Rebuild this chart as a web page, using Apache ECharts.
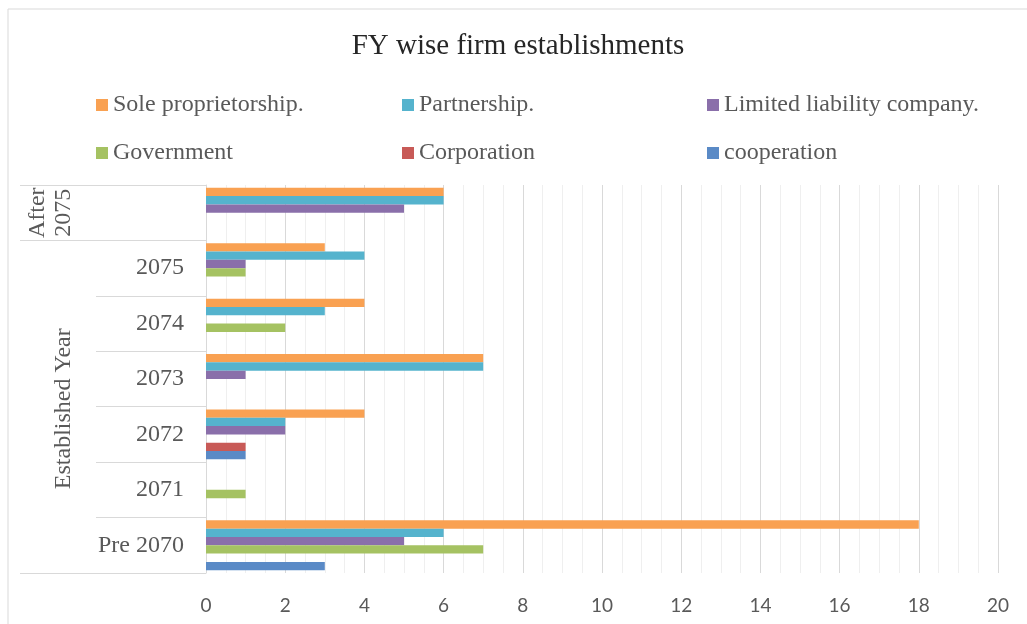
<!DOCTYPE html>
<html>
<head>
<meta charset="utf-8">
<script src="https://cdn.jsdelivr.net/npm/echarts@6/dist/echarts.min.js"></script>
<style>
  html, body { margin: 0; padding: 0; background: #fff; }
  #chart { width: 1027px; height: 624px; }
</style>
</head>
<body>
<div id="chart"></div>
<script>
// categories from bottom to top
const categories = ['Pre 2070', '2071', '2072', '2073', '2074', '2075', 'After 2075'];
const seriesNames = ['Sole proprietorship.', 'Partnership.', 'Limited liability company.', 'Government', 'Corporation', 'cooperation'];
const soleProprietorship = [18, 0, 4, 7, 4, 3, 6];
const partnership = [6, 0, 2, 7, 3, 4, 6];
const limitedLiability = [5, 0, 2, 1, 0, 1, 5];
const government = [7, 1, 0, 0, 2, 1, 0];
const corporation = [0, 0, 1, 0, 0, 0, 0];
const cooperation = [3, 0, 1, 0, 0, 0, 0];
const colors = ['#F9A152', '#55B3CD', '#8A6FAA', '#A5C262', '#C85A57', '#5A8AC6'];

const serif = 'Liberation Serif';
const gray = '#595959';
const lineGray = '#d9d9d9';

let chart = echarts.init(document.getElementById('chart'));

const allValues = [soleProprietorship, partnership, limitedLiability, government, corporation, cooperation];

const legendStyle = {
  orient: 'vertical',
  top: 93,
  padding: 0,
  itemGap: 24,
  itemWidth: 12,
  itemHeight: 12,
  icon: 'rect',
  textStyle: { fontFamily: serif, fontSize: 24, color: gray, lineHeight: 24 }
}

let option = {
  animation: false,
  backgroundColor: '#fff',
  title: {
    text: 'FY wise firm establishments',
    left: 518,
    textAlign: 'center',
    top: 32,
    padding: 0,
    textStyle: { fontFamily: serif, fontSize: 29, fontWeight: 'normal', color: '#262626' }
  },
  legend: [
    Object.assign({ left: 96, data: [seriesNames[0], seriesNames[3]] }, legendStyle),
    Object.assign({ left: 402, data: [seriesNames[1], seriesNames[4]] }, legendStyle),
    Object.assign({ left: 707, data: [seriesNames[2], seriesNames[5]] }, legendStyle),
  ],
  grid: { left: 206, right: 29, top: 185, bottom: 51, containLabel: false },
  xAxis: {
    type: 'value',
    min: 0,
    max: 20,
    interval: 2,
    axisLine: { show: false },
    axisTick: { show: false },
    axisLabel: { fontFamily: 'Lato', fontSize: 19, color: gray, margin: 23 },
    splitLine: { show: true, lineStyle: { color: lineGray, width: 1 } },
    minorTick: { show: false, splitNumber: 4 },
    minorSplitLine: { show: true, lineStyle: { color: '#efefef', width: 1 } }
  },
  yAxis: [
    {
      type: 'category',
      position: 'left',
      data: categories,
      axisLine: { show: true, lineStyle: { color: lineGray } },
      axisTick: { show: true, length: 110, lineStyle: { color: lineGray } },
      axisLabel: {
        fontFamily: serif, fontSize: 24, color: gray, margin: 22,
        formatter: (value) => value === 'After 2075' ? '' : value
      },
      splitLine: { show: false }
    },
    {
      // longer dividers that separate the label groups
      type: 'category',
      position: 'left',
      data: categories,
      axisLine: { show: false },
      axisTick: {
        show: true, length: 186, lineStyle: { color: lineGray },
        interval: (index) => index === 0 || index === 6
      },
      axisLabel: { show: false },
      splitLine: { show: false }
    }
  ],
  series: seriesNames.map((name, i) => ({
    name: name,
    type: 'bar',
    yAxisIndex: 0,
    data: allValues[i],
    barGap: '0%',
    barCategoryGap: '10%',
    itemStyle: { color: colors[i] }
  }))
};
chart.setOption(option);

// group labels of the two-level category axis, placed through the axis scale
let yBottom = chart.convertToPixel({ yAxisIndex: 0 }, categories[0]);
let yTop = chart.convertToPixel({ yAxisIndex: 0 }, categories[5]);
let yAfter = chart.convertToPixel({ yAxisIndex: 0 }, categories[6]);
chart.setOption({
  graphic: [
    {
      type: 'rect',
      silent: true,
      shape: { x: 8, y: 9, width: 1100, height: 700 },
      style: { fill: 'none', stroke: lineGray, lineWidth: 1 }
    },
    {
      type: 'text',
      x: 64,
      y: (yBottom + yTop) / 2 + 2,
      rotation: Math.PI / 2,
      style: { text: 'Established Year', fontFamily: serif, fontSize: 24, fill: gray, align: 'center', verticalAlign: 'middle' }
    },
    {
      type: 'text',
      x: 51,
      y: yAfter,
      rotation: Math.PI / 2,
      style: { text: 'After\n2075', fontFamily: serif, fontSize: 24, lineHeight: 26, fill: gray, align: 'center', verticalAlign: 'middle' }
    }
  ]
});
</script>
</body>
</html>
